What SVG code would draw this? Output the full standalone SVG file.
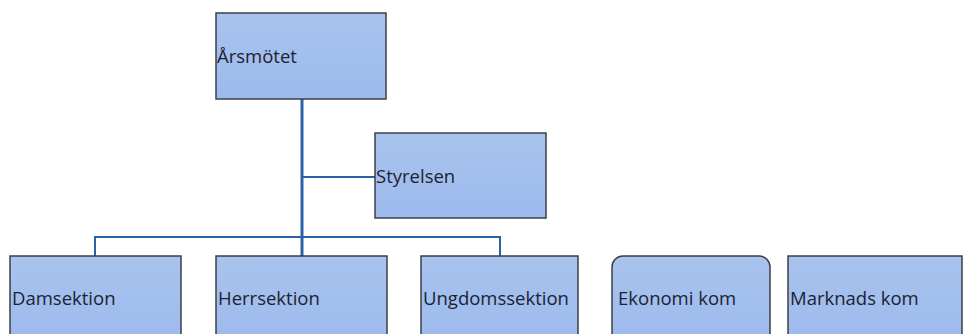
<svg xmlns="http://www.w3.org/2000/svg" width="977" height="334" viewBox="0 0 977 334">
<defs>
<linearGradient id="g" x1="0" y1="0" x2="0" y2="1">
<stop offset="0" stop-color="#a9c3ee"/>
<stop offset="1" stop-color="#9cbaec"/>
</linearGradient>
</defs>
<style>
.box{fill:url(#g);stroke:#3a3f4a;stroke-width:1.5}
.t{font-family:"Open Sans","Liberation Sans",sans-serif;font-size:18.5px;fill:#1c2233}
.c{fill:none;stroke:#2a62a8;stroke-width:2}
.cm{fill:none;stroke:#2a62a8;stroke-width:3}
</style>
<rect width="977" height="334" fill="#ffffff"/>
<g id="connectors">
<line class="cm" x1="302" y1="99" x2="302" y2="256"/>
<line class="c" x1="302" y1="177" x2="375" y2="177"/>
<polyline class="c" points="95,256 95,237 500,237 500,256"/>
</g>
<g id="arsmotet">
<rect class="box" x="216" y="13" width="170" height="86"/>
<text class="t" x="217" y="63">Årsmötet</text>
</g>
<g id="styrelsen">
<rect class="box" x="375" y="133" width="171" height="85"/>
<text class="t" x="376" y="183">Styrelsen</text>
</g>
<g id="damsektion">
<rect class="box" x="10" y="256" width="171" height="90"/>
<text class="t" x="12" y="305">Damsektion</text>
</g>
<g id="herrsektion">
<rect class="box" x="216" y="256" width="171" height="90"/>
<text class="t" x="218" y="305">Herrsektion</text>
</g>
<g id="ungdomssektion">
<rect class="box" x="421" y="256" width="157" height="90"/>
<text class="t" x="423" y="305">Ungdomssektion</text>
</g>
<g id="ekonomikom">
<rect class="box" x="612" y="256" width="158" height="90" rx="11"/>
<text class="t" x="618" y="305">Ekonomi kom</text>
</g>
<g id="marknadskom">
<rect class="box" x="788" y="256" width="174" height="90"/>
<text class="t" x="790" y="305">Marknads kom</text>
</g>
</svg>
